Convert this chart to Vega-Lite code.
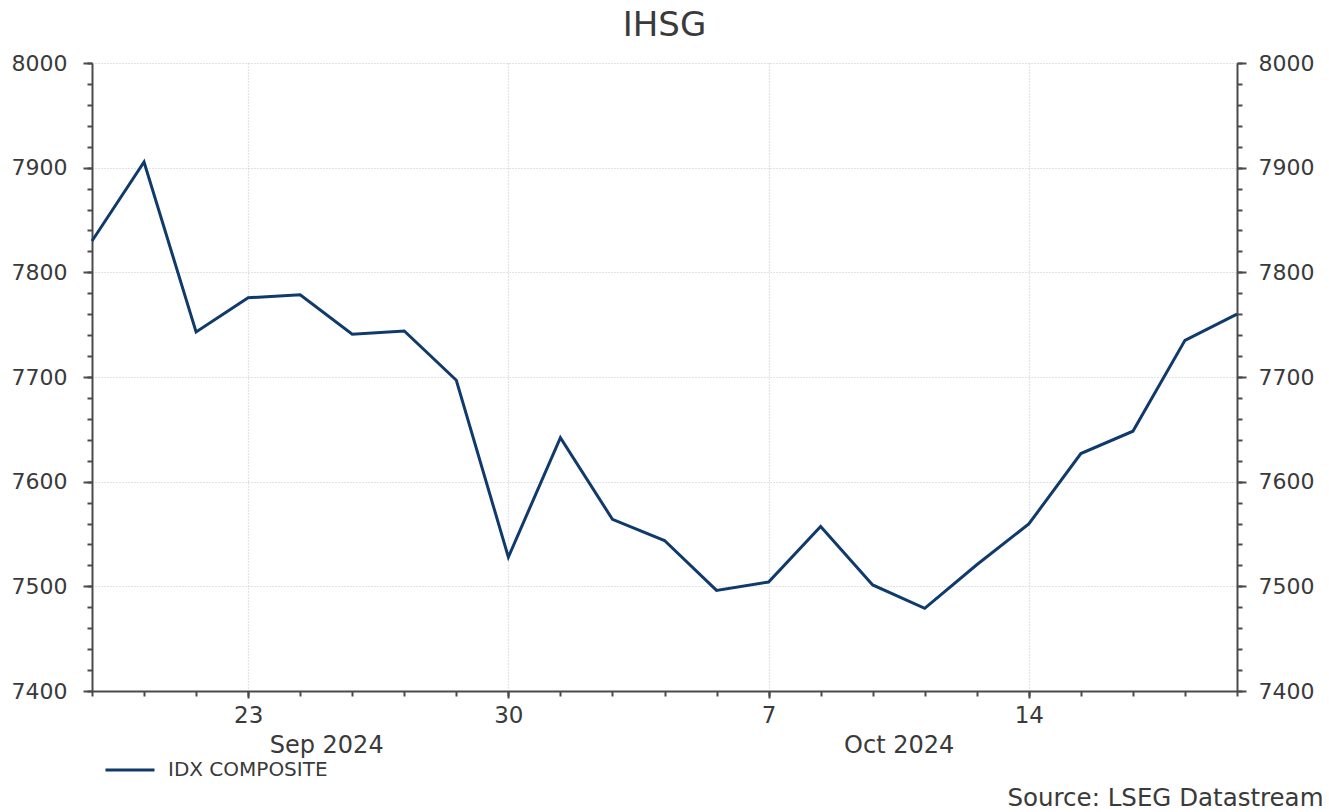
{
  "$schema": "https://vega.github.io/schema/vega-lite/v6.json",
  "width": 1145,
  "height": 628,
  "autosize": "none",
  "padding": {"left": 92, "top": 63, "right": 92, "bottom": 121},
  "background": "white",
  "config": {
    "view": {"stroke": null},
    "font": "DejaVu Sans",
    "axis": {"labelColor": "#3a3a3a", "labelFont": "DejaVu Sans", "domainColor": "#4a4a4a", "tickColor": "#4a4a4a", "domainWidth": 2, "tickWidth": 2, "title": null}
  },
  "title": {"text": "IHSG", "fontSize": 34, "font": "DejaVu Sans", "fontWeight": "normal", "color": "#3a3a3a", "anchor": "middle", "baseline": "alphabetic", "offset": -18},
  "data": {
    "values": [
      {"d": "2024-09-18", "v": 7829.9, "s": "IDX COMPOSITE"},
      {"d": "2024-09-19", "v": 7905.4, "s": "IDX COMPOSITE"},
      {"d": "2024-09-20", "v": 7743.0, "s": "IDX COMPOSITE"},
      {"d": "2024-09-23", "v": 7775.7, "s": "IDX COMPOSITE"},
      {"d": "2024-09-24", "v": 7778.5, "s": "IDX COMPOSITE"},
      {"d": "2024-09-25", "v": 7740.9, "s": "IDX COMPOSITE"},
      {"d": "2024-09-26", "v": 7744.0, "s": "IDX COMPOSITE"},
      {"d": "2024-09-27", "v": 7696.9, "s": "IDX COMPOSITE"},
      {"d": "2024-09-30", "v": 7527.9, "s": "IDX COMPOSITE"},
      {"d": "2024-10-01", "v": 7642.1, "s": "IDX COMPOSITE"},
      {"d": "2024-10-02", "v": 7564.0, "s": "IDX COMPOSITE"},
      {"d": "2024-10-03", "v": 7543.8, "s": "IDX COMPOSITE"},
      {"d": "2024-10-04", "v": 7496.1, "s": "IDX COMPOSITE"},
      {"d": "2024-10-07", "v": 7504.1, "s": "IDX COMPOSITE"},
      {"d": "2024-10-08", "v": 7557.1, "s": "IDX COMPOSITE"},
      {"d": "2024-10-09", "v": 7501.3, "s": "IDX COMPOSITE"},
      {"d": "2024-10-10", "v": 7479.0, "s": "IDX COMPOSITE"},
      {"d": "2024-10-11", "v": 7520.6, "s": "IDX COMPOSITE"},
      {"d": "2024-10-14", "v": 7559.6, "s": "IDX COMPOSITE"},
      {"d": "2024-10-15", "v": 7626.9, "s": "IDX COMPOSITE"},
      {"d": "2024-10-16", "v": 7648.2, "s": "IDX COMPOSITE"},
      {"d": "2024-10-17", "v": 7735.0, "s": "IDX COMPOSITE"},
      {"d": "2024-10-18", "v": 7760.1, "s": "IDX COMPOSITE"}
    ]
  },
  "layer": [
    {
      "mark": {"type": "line", "strokeWidth": 3},
      "encoding": {
        "x": {"field": "d", "type": "ordinal", "scale": {"type": "point", "padding": 0},
          "axis": {"orient": "bottom", "values": ["2024-09-23", "2024-09-30", "2024-10-07", "2024-10-14"],
            "labelExpr": "toNumber(substring(datum.value, 8, 10))", "labelAngle": 0, "labelFontSize": 23,
            "tickSize": 7, "labelPadding": 6, "grid": true, "gridColor": "#c8c8c8", "gridDash": [1, 2], "gridWidth": 1.2}},
        "y": {"field": "v", "type": "quantitative", "scale": {"domain": [7400, 8000], "nice": false, "zero": false},
          "axis": {"orient": "left", "values": [7400, 7500, 7600, 7700, 7800, 7900, 8000], "format": "d", "labelFontSize": 22,
            "tickSize": 9, "labelPadding": 16, "grid": true, "gridColor": "#c8c8c8", "gridDash": [1, 2], "gridWidth": 1.2}},
        "color": {"field": "s", "type": "nominal", "scale": {"domain": ["IDX COMPOSITE"], "range": ["#103a6b"]},
          "legend": {"orient": "none", "legendX": 12, "legendY": 681, "title": null, "padding": 0,
            "symbolType": "stroke", "symbolSize": 2401, "symbolStrokeWidth": 3, "labelFontSize": 20,
            "labelColor": "#3a3a3a", "labelFont": "DejaVu Sans", "labelOffset": 12}}
      }
    },
    {
      "mark": {"type": "line", "opacity": 0},
      "encoding": {
        "x": {"field": "d", "type": "ordinal", "scale": {"type": "point", "padding": 0},
          "axis": {"orient": "bottom", "labels": false, "tickSize": 5, "domain": false, "grid": false}},
        "y": {"field": "v", "type": "quantitative", "scale": {"domain": [7400, 8000], "nice": false, "zero": false},
          "axis": {"orient": "left", "values": [7400, 7420, 7440, 7460, 7480, 7500, 7520, 7540, 7560, 7580, 7600, 7620, 7640, 7660, 7680, 7700, 7720, 7740, 7760, 7780, 7800, 7820, 7840, 7860, 7880, 7900, 7920, 7940, 7960, 7980, 8000],
            "labels": false, "tickSize": 5, "domain": false, "grid": false}}
      }
    },
    {
      "mark": {"type": "line", "opacity": 0},
      "encoding": {
        "x": {"field": "d", "type": "ordinal", "scale": {"type": "point", "padding": 0},
          "axis": {"orient": "bottom", "values": ["2024-09-24", "2024-10-09"],
            "labelExpr": "datum.value == '2024-09-24' ? 'Sep 2024' : 'Oct 2024'", "labelAngle": 0, "labelFontSize": 24,
            "labelOffset": 26, "ticks": false, "tickSize": 0, "labelPadding": 42, "domain": false, "grid": false,
            "title": "Source: LSEG Datastream", "titleFontSize": 24.5, "titleFontWeight": "normal", "titleColor": "#3a3a3a",
            "titleFont": "DejaVu Sans", "titleAlign": "right", "titleBaseline": "alphabetic", "titleX": 1231, "titleY": 114, "titleAnchor": "end"}},
        "y": {"field": "v", "type": "quantitative", "scale": {"domain": [7400, 8000], "nice": false, "zero": false},
          "axis": {"orient": "right", "values": [7400, 7500, 7600, 7700, 7800, 7900, 8000], "format": "d", "labelFontSize": 22,
            "tickSize": 9, "labelPadding": 12, "grid": false}}
      }
    },
    {
      "mark": {"type": "line", "opacity": 0},
      "encoding": {
        "x": {"field": "d", "type": "ordinal", "scale": {"type": "point", "padding": 0}, "axis": null},
        "y": {"field": "v", "type": "quantitative", "scale": {"domain": [7400, 8000], "nice": false, "zero": false},
          "axis": {"orient": "right", "values": [7400, 7420, 7440, 7460, 7480, 7500, 7520, 7540, 7560, 7580, 7600, 7620, 7640, 7660, 7680, 7700, 7720, 7740, 7760, 7780, 7800, 7820, 7840, 7860, 7880, 7900, 7920, 7940, 7960, 7980, 8000],
            "labels": false, "tickSize": 5, "domain": false, "grid": false}}
      }
    }
  ],
  "resolve": {"axis": {"x": "independent", "y": "independent"}}
}
